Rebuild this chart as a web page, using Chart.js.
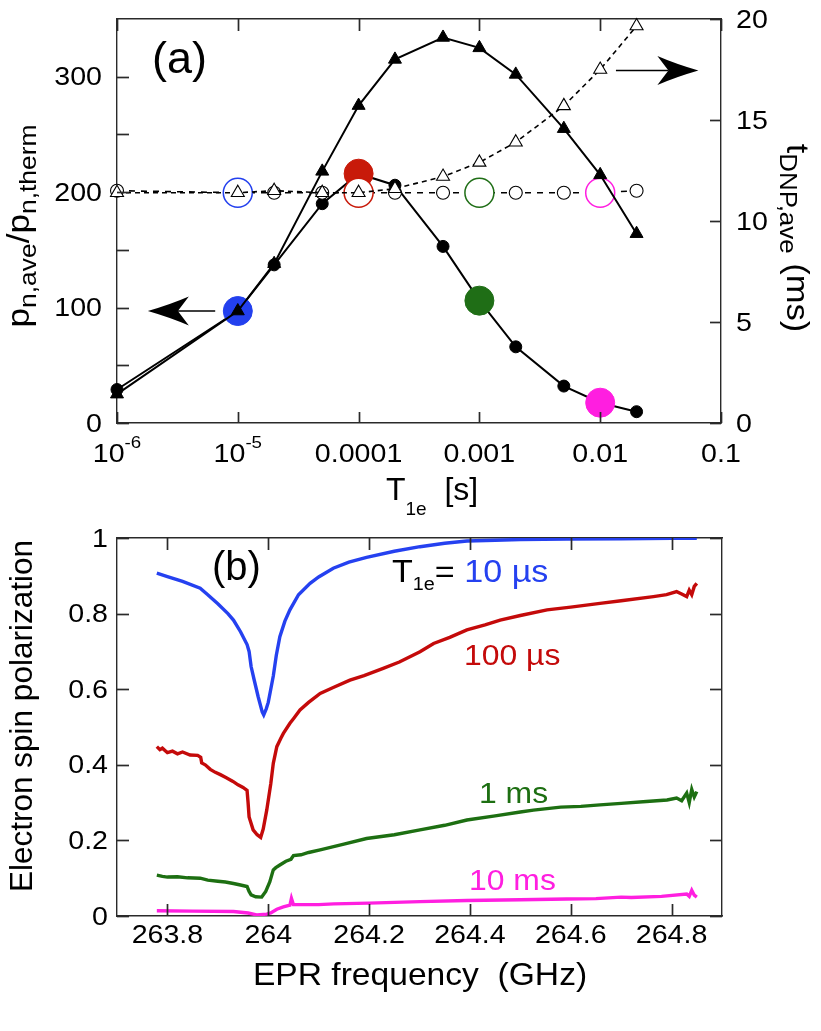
<!DOCTYPE html>
<html>
<head>
<meta charset="utf-8">
<script src="https://cdn.jsdelivr.net/npm/chart.js@4.4.0/dist/chart.umd.min.js"></script>
<style>
  body { margin: 0; background: #fff; }
  #wrap { position: relative; width: 821px; height: 1031px; }
  canvas { position: absolute; left: 0; }
  #ca { top: 0; }
  #cb { top: 470px; }
</style>
</head>
<body>
<div id="wrap">
  <canvas id="ca" width="821" height="530"></canvas>
  <canvas id="cb" width="821" height="561"></canvas>
</div>
<script>
// ---- panel (a) data ----
const t1e      = [1e-6, 1e-5, 2e-5, 5e-5, 1e-4, 2e-4, 5e-4, 1e-3, 2e-3, 5e-3, 1e-2, 2e-2];
const pnCirc   = [29, 97, 137, 190, 216, 206, 153, 106, 66, 32, 17.6, 9.8];
const pnTri    = [25, 97, 138, 218, 275, 315, 334, 325, 302, 255, 215, 164];
const tdnpTri  = [11.4, 11.4, 11.5, 11.4, 11.4, 11.6, 12.2, 12.9, 13.9, 15.7, 17.5, 19.65];
const tdnpCirc = [11.5, 11.4, 11.4, 11.4, 11.4, 11.4, 11.4, 11.4, 11.4, 11.4, 11.4, 11.5];
const hiT      = [1e-5, 1e-4, 1e-3, 1e-2];
const hiColors = ['#2340ee', '#c81a0a', '#1f6e16', '#ff1ee0'];
const xTicksA  = [1e-6, 1e-5, 1e-4, 1e-3, 1e-2, 0.1];
const xLabelsA = ['10^-6', '10^-5', '0.0001', '0.001', '0.01', '0.1'];
const yTicksA  = [0, 100, 200, 300];
const yMinorA  = [50, 150, 250];
const y2TicksA = [0, 5, 10, 15, 20];

// ---- panel (b) data ----
const freqBlue = [263.779, 263.80, 263.83, 263.865, 263.88, 263.90, 263.92, 263.931, 263.945, 263.958, 263.962, 263.966, 263.972, 263.98, 263.988, 263.991, 263.996, 264.0, 264.005, 264.01, 264.016, 264.023, 264.033, 264.043, 264.06, 264.083, 264.10, 264.129, 264.16, 264.195, 264.25, 264.301, 264.35, 264.394, 264.45, 264.5, 264.592, 264.7, 264.8, 264.85];
const polBlue  = [0.907, 0.898, 0.885, 0.867, 0.85, 0.826, 0.80, 0.783, 0.752, 0.718, 0.70, 0.66, 0.625, 0.58, 0.54, 0.532, 0.548, 0.565, 0.60, 0.635, 0.69, 0.739, 0.78, 0.81, 0.85, 0.88, 0.897, 0.92, 0.936, 0.949, 0.965, 0.977, 0.986, 0.992, 0.994, 0.996, 0.997, 0.998, 0.999, 0.999];
const freqRed  = [263.779, 263.785, 263.79, 263.80, 263.81, 263.82, 263.83, 263.845, 263.86, 263.866, 263.868, 263.875, 263.885, 263.895, 263.905, 263.915, 263.93, 263.94, 263.95, 263.958, 263.96, 263.962, 263.97, 263.978, 263.985, 263.99, 263.997, 264.005, 264.01, 264.017, 264.025, 264.03, 264.043, 264.05, 264.063, 264.08, 264.103, 264.13, 264.162, 264.19, 264.228, 264.26, 264.301, 264.328, 264.36, 264.394, 264.43, 264.46, 264.5, 264.553, 264.6, 264.658, 264.7, 264.764, 264.79, 264.81, 264.82, 264.83, 264.835, 264.84, 264.845, 264.85];
const polRed   = [0.448, 0.44, 0.444, 0.432, 0.436, 0.429, 0.434, 0.426, 0.425, 0.42, 0.405, 0.40, 0.388, 0.38, 0.374, 0.367, 0.356, 0.347, 0.34, 0.332, 0.30, 0.262, 0.228, 0.215, 0.208, 0.23, 0.28, 0.35, 0.404, 0.448, 0.47, 0.483, 0.51, 0.522, 0.545, 0.565, 0.589, 0.605, 0.624, 0.636, 0.655, 0.672, 0.699, 0.721, 0.737, 0.757, 0.77, 0.783, 0.795, 0.81, 0.817, 0.827, 0.834, 0.845, 0.85, 0.858, 0.852, 0.845, 0.862, 0.85, 0.872, 0.88];
const freqGreen = [263.779, 263.79, 263.80, 263.82, 263.84, 263.865, 263.88, 263.90, 263.915, 263.931, 263.945, 263.958, 263.962, 263.966, 263.975, 263.987, 263.995, 264.003, 264.01, 264.015, 264.023, 264.035, 264.045, 264.05, 264.065, 264.08, 264.103, 264.15, 264.195, 264.25, 264.301, 264.35, 264.394, 264.45, 264.5, 264.526, 264.58, 264.62, 264.658, 264.7, 264.75, 264.791, 264.81, 264.82, 264.83, 264.835, 264.84, 264.845, 264.85];
const polGreen  = [0.108, 0.105, 0.103, 0.104, 0.101, 0.10, 0.095, 0.092, 0.09, 0.086, 0.082, 0.078, 0.065, 0.056, 0.051, 0.05, 0.065, 0.09, 0.122, 0.128, 0.135, 0.145, 0.15, 0.16, 0.162, 0.168, 0.175, 0.19, 0.205, 0.215, 0.228, 0.24, 0.254, 0.265, 0.275, 0.28, 0.288, 0.29, 0.294, 0.298, 0.303, 0.307, 0.312, 0.305, 0.325, 0.30, 0.335, 0.315, 0.329];
const freqMag = [263.779, 263.85, 263.931, 263.96, 263.977, 263.997, 264.005, 264.017, 264.03, 264.043, 264.046, 264.05, 264.07, 264.10, 264.13, 264.20, 264.301, 264.394, 264.5, 264.592, 264.65, 264.70, 264.72, 264.78, 264.83, 264.835, 264.84, 264.845, 264.85];
const polMag  = [0.014, 0.013, 0.012, 0.008, 0.003, 0.005, 0.008, 0.018, 0.024, 0.029, 0.047, 0.03, 0.03, 0.03, 0.032, 0.034, 0.038, 0.041, 0.043, 0.045, 0.046, 0.05, 0.049, 0.052, 0.058, 0.052, 0.068, 0.055, 0.05];
const xTicksB  = [263.8, 264, 264.2, 264.4, 264.6, 264.8];
const xLabelsB = ['263.8', '264', '264.2', '264.4', '264.6', '264.8'];
const yTicksB  = [0, 0.2, 0.4, 0.6, 0.8, 1];
const yLabelsB = ['0', '0.2', '0.4', '0.6', '0.8', '1'];

const BLUE = '#2541f0', RED = '#c40a0a', GREEN = '#1d6f12', MAG = '#ff1fe0';
const FONT = '"Liberation Sans", Arial, Helvetica, sans-serif';
const AX = '#2a2a2a';

function zip(xs, ys) { return xs.map((x, i) => ({ x: x, y: ys[i] })); }
function hi(ctx) { return hiT.indexOf(t1e[ctx.dataIndex]); }

// text made of parts {t, s(size), dy, c}, baseline at (x, y)
function drawRich(ctx, parts, x, y, align, rot, sx) {
  ctx.save();
  ctx.translate(x, y);
  if (rot) ctx.rotate(rot);
  ctx.scale(sx || 1, 1);
  ctx.textAlign = 'left';
  ctx.textBaseline = 'alphabetic';
  let w = 0;
  parts.forEach(p => { ctx.font = p.s + 'px ' + FONT; p.w = ctx.measureText(p.t).width; w += p.w; });
  let cx = align === 'center' ? -w / 2 : align === 'right' ? -w : 0;
  parts.forEach(p => {
    ctx.font = p.s + 'px ' + FONT;
    ctx.fillStyle = p.c || '#000';
    ctx.fillText(p.t, cx, p.dy || 0);
    cx += p.w;
  });
  ctx.restore();
}
function tickParts(str, size) {
  const s = str.split('^');
  if (s.length === 1) return [{ t: str, s: size }];
  return [{ t: s[0], s: size }, { t: s[1], s: 17, dy: -14 }];
}
function arrow(ctx, x1, y, x2) {
  const d = Math.sign(x2 - x1), L = 41, H = 14.5, N = 11;
  ctx.save();
  ctx.strokeStyle = '#000';
  ctx.lineWidth = 1.6;
  ctx.beginPath(); ctx.moveTo(x1, y); ctx.lineTo(x2 - d * (L - N), y); ctx.stroke();
  ctx.fillStyle = '#000';
  ctx.beginPath();
  ctx.moveTo(x2, y);
  ctx.quadraticCurveTo(x2 - d * L * 0.55, y - H * 0.45, x2 - d * L, y - H);
  ctx.lineTo(x2 - d * (L - N), y);
  ctx.lineTo(x2 - d * L, y + H);
  ctx.quadraticCurveTo(x2 - d * L * 0.55, y + H * 0.45, x2, y);
  ctx.fill();
  ctx.restore();
}
// inward tick marks, placed with the scale
function inTicks(chart, id, vals, len) {
  const sc = chart.scales[id], a = chart.chartArea, ctx = chart.ctx;
  ctx.save();
  ctx.strokeStyle = AX;
  ctx.lineWidth = 1.7;
  vals.forEach(v => {
    const p = Math.round(sc.getPixelForValue(v)) + 0.5;
    ctx.beginPath();
    if (sc.isHorizontal()) {
      const y0 = sc.position === 'top' ? a.top : a.bottom;
      const d = sc.position === 'top' ? len : -len;
      ctx.moveTo(p, y0); ctx.lineTo(p, y0 + d);
    } else {
      const x0 = sc.position === 'left' ? a.left : a.right;
      const d = sc.position === 'left' ? len : -len;
      ctx.moveTo(x0, p); ctx.lineTo(x0 + d, p);
    }
    ctx.stroke();
  });
  ctx.restore();
}

function axis(extra, fitFn) {
  return Object.assign({
    grid: { display: false },
    border: { color: AX, width: 1.4 },
    ticks: { display: false },
    afterFit: fitFn
  }, extra);
}

// ---------------- chart (a) ----------------
const extrasA = {
  id: 'extrasA',
  afterDraw(chart) {
    const ctx = chart.ctx, s = chart.scales;
    inTicks(chart, 'x', xTicksA, 11);
    inTicks(chart, 'xt', xTicksA, 12);
    inTicks(chart, 'y', yTicksA.concat(yMinorA), 12);
    inTicks(chart, 'y2', y2TicksA, 11);

    xTicksA.forEach((v, i) => drawRich(ctx, tickParts(xLabelsA[i], 26), s.x.getPixelForValue(v), 461.5, 'center', 0, 1.1));
    yTicksA.forEach(v => drawRich(ctx, [{ t: String(v), s: 26 }], 102, s.y.getPixelForValue(v) + 8.5, 'right', 0, 1.1));
    y2TicksA.forEach(v => drawRich(ctx, [{ t: String(v), s: 26 }], 736, s.y2.getPixelForValue(v) + 8.5, 'left', 0, 1.1));

    drawRich(ctx, [{ t: 'T', s: 32 }, { t: '1e', s: 19, dy: 15 }, { t: '  [s]', s: 32 }], 386, 500, 'left', 0, 1);
    drawRich(ctx, [{ t: 'p', s: 32 }, { t: 'n,ave', s: 24, dy: 7 }, { t: '/p', s: 32 }, { t: 'n,therm', s: 24, dy: 7 }],
      29, 226, 'center', -Math.PI / 2, 1.1);
    drawRich(ctx, [{ t: 't', s: 32 }, { t: 'DNP,ave', s: 24, dy: 7 }, { t: ' (ms)', s: 32 }],
      787, 238, 'center', Math.PI / 2, 1.08);
    drawRich(ctx, [{ t: '(a)', s: 45 }], 152, 73, 'left', 0, 1);

    arrow(ctx, s.x.getPixelForValue(6.5e-6), s.y.getPixelForValue(97), s.x.getPixelForValue(1.8e-6));
    arrow(ctx, s.x.getPixelForValue(0.0135), s.y2.getPixelForValue(17.45), s.x.getPixelForValue(0.065));
  }
};

new Chart(document.getElementById('ca'), {
  type: 'line',
  data: {
    datasets: [
      {
        data: zip(t1e, pnTri), yAxisID: 'y', xAxisID: 'x',
        borderColor: '#000', borderWidth: 2,
        pointStyle: 'triangle', pointRadius: 7.5,
        pointBackgroundColor: '#000', pointBorderColor: '#000', pointBorderWidth: 1
      },
      {
        data: zip(t1e, tdnpTri), yAxisID: 'y2', xAxisID: 'x',
        borderColor: '#000', borderWidth: 1.6, borderDash: [5, 4],
        pointStyle: 'triangle', pointRadius: 7.5,
        pointBackgroundColor: '#fff', pointBorderColor: '#000', pointBorderWidth: 1.1
      },
      {
        data: zip(t1e, tdnpCirc), yAxisID: 'y2', xAxisID: 'x',
        borderColor: '#000', borderWidth: 1.6, borderDash: [6, 6],
        pointStyle: 'circle',
        pointRadius: c => hi(c) >= 0 ? 14.5 : 6.5,
        pointBackgroundColor: '#fff',
        pointBorderColor: c => hi(c) >= 0 ? hiColors[hi(c)] : '#000',
        pointBorderWidth: c => hi(c) >= 0 ? 1.5 : 1.1
      },
      {
        data: zip(t1e, pnCirc), yAxisID: 'y', xAxisID: 'x',
        borderColor: '#000', borderWidth: 2,
        pointStyle: 'circle',
        pointRadius: c => hi(c) >= 0 ? 14.5 : 6,
        pointBackgroundColor: c => hi(c) >= 0 ? hiColors[hi(c)] : '#000',
        pointBorderColor: c => hi(c) >= 0 ? hiColors[hi(c)] : '#000',
        pointBorderWidth: 1
      }
    ]
  },
  options: {
    responsive: false, animation: false, events: [],
    layout: { padding: 0, autoPadding: false },
    datasets: { line: { clip: false, tension: 0 } },
    plugins: { legend: { display: false }, tooltip: { enabled: false } },
    scales: {
      x:  axis({ type: 'logarithmic', position: 'bottom', min: 1e-6, max: 0.1 }, s => { s.height = 107; }),
      xt: axis({ type: 'logarithmic', position: 'top', min: 1e-6, max: 0.1 }, s => { s.height = 19; }),
      y:  axis({ type: 'linear', position: 'left', min: 0, max: 350 }, s => { s.width = 117; }),
      y2: axis({ type: 'linear', position: 'right', min: 0, max: 20 }, s => { s.width = 100; })
    }
  },
  plugins: [extrasA]
});

// ---------------- chart (b) ----------------
const extrasB = {
  id: 'extrasB',
  afterDraw(chart) {
    const ctx = chart.ctx, s = chart.scales;
    inTicks(chart, 'x', xTicksB, 12);
    inTicks(chart, 'xt', xTicksB, 12);
    inTicks(chart, 'y', yTicksB, 12);
    inTicks(chart, 'yr', yTicksB, 12);

    xTicksB.forEach((v, i) => drawRich(ctx, [{ t: xLabelsB[i], s: 26 }], s.x.getPixelForValue(v), 473, 'center', 0, 1.1));
    yTicksB.forEach((v, i) => drawRich(ctx, [{ t: yLabelsB[i], s: 26 }], 108, s.y.getPixelForValue(v) + 8.5, 'right', 0, 1.1));

    drawRich(ctx, [{ t: 'EPR frequency  (GHz)', s: 32 }], 420, 515, 'center', 0, 1.05);
    drawRich(ctx, [{ t: 'Electron spin polarization', s: 31.5 }], 32, 246, 'center', -Math.PI / 2, 1);
    drawRich(ctx, [{ t: '(b)', s: 40 }], 212, 110, 'left', 0, 1);

    drawRich(ctx, [{ t: 'T', s: 31 }, { t: '1e', s: 18, dy: 8 }, { t: '= ', s: 31 }, { t: '10 \u00b5s', s: 31, c: BLUE }], 392, 112, 'left', 0, 1.1);
    drawRich(ctx, [{ t: '100 \u00b5s', s: 29, c: RED }], 464, 195, 'left', 0, 1.1);
    drawRich(ctx, [{ t: '1 ms', s: 29, c: GREEN }], 479, 333, 'left', 0, 1.1);
    drawRich(ctx, [{ t: '10 ms', s: 29, c: MAG }], 469, 420, 'left', 0, 1.1);
  }
};

function spec(xs, ys, color) {
  return { data: zip(xs, ys), borderColor: color, borderWidth: 3.4, pointRadius: 0, xAxisID: 'x', yAxisID: 'y' };
}

new Chart(document.getElementById('cb'), {
  type: 'line',
  data: {
    datasets: [
      spec(freqBlue, polBlue, BLUE),
      spec(freqRed, polRed, RED),
      spec(freqGreen, polGreen, GREEN),
      spec(freqMag, polMag, MAG)
    ]
  },
  options: {
    responsive: false, animation: false, events: [],
    layout: { padding: 0, autoPadding: false },
    datasets: { line: { tension: 0 } },
    plugins: { legend: { display: false }, tooltip: { enabled: false } },
    scales: {
      x:  axis({ type: 'linear', position: 'bottom', min: 263.7, max: 264.9 }, s => { s.height = 115; }),
      xt: axis({ type: 'linear', position: 'top', min: 263.7, max: 264.9 }, s => { s.height = 68; }),
      y:  axis({ type: 'linear', position: 'left', min: 0, max: 1 }, s => { s.width = 117; }),
      yr: axis({ type: 'linear', position: 'right', min: 0, max: 1 }, s => { s.width = 99; })
    }
  },
  plugins: [extrasB]
});
</script>
</body>
</html>
